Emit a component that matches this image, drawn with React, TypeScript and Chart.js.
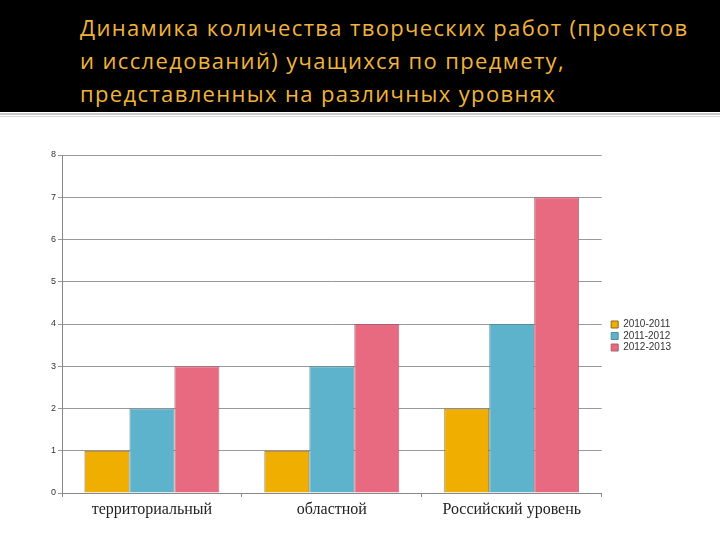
import React, { useEffect, useRef } from "react";
import { Chart, registerables } from "chart.js";

Chart.register(...registerables);

const titleLines = [
  "Динамика количества творческих работ (проектов",
  "и исследований) учащихся по предмету,",
  "представленных на различных уровнях",
];
const categories = ["территориальный", "областной", "Российский уровень"];
const seriesNames = ["2010-2011", "2011-2012", "2012-2013"];
const values2010 = [1, 1, 2];
const values2011 = [2, 3, 4];
const values2012 = [3, 4, 7];
const yTicks = [0, 1, 2, 3, 4, 5, 6, 7, 8];

const fills = ["#F0AE00", "#5DB3CB", "#E86A80"];
const borders = ["#8a6a1a", "#5a8a98", "#a86070"];

const legendShift = {
  id: "legendShift",
  afterLayout(chart: any) {
    const lg = chart.legend;
    if (lg) {
      lg.left += 8;
      lg.right += 8;
    }
  },
};

export default function App() {
  const ref = useRef<HTMLCanvasElement | null>(null);

  useEffect(() => {
    if (!ref.current) return;
    const series = [values2010, values2011, values2012];
    const chart = new Chart(ref.current, {
      type: "bar",
      data: {
        labels: categories,
        datasets: seriesNames.map((name, i) => ({
          label: name,
          data: series[i],
          backgroundColor: fills[i],
          borderColor: borders[i],
          borderWidth: 1,
          categoryPercentage: 0.75,
          barPercentage: 1.0,
        })),
      },
      plugins: [legendShift],
      options: {
        responsive: false,
        animation: false,
        layout: { padding: { top: 35, left: 0, right: 47, bottom: 0 } },
        plugins: {
          tooltip: { enabled: false },
          legend: {
            position: "right",
            fullSize: false,
            title: {
              display: true,
              text: "",
              font: { size: 10, lineHeight: 1.2 },
              padding: { top: 6, bottom: 6 },
            },
            labels: {
              boxWidth: 7,
              boxHeight: 7,
              padding: 1.5,
              color: "#333",
              font: { family: "Liberation Sans, Arial", size: 10 },
            },
          },
        },
        scales: {
          x: {
            grid: {
              drawOnChartArea: false,
              tickLength: 4,
              color: "#888",
            },
            border: { color: "#888" },
            ticks: {
              color: "#222",
              padding: 3,
              font: { family: "Liberation Serif, Times New Roman, serif", size: 16 },
            },
            afterFit: (s: any) => {
              s.height = 47;
            },
          },
          y: {
            min: yTicks[0],
            max: yTicks[yTicks.length - 1],
            ticks: {
              stepSize: 1,
              color: "#333",
              padding: 2,
              font: { family: "Liberation Sans, Arial", size: 9 },
            },
            grid: { color: "#999", tickLength: 4 },
            border: { color: "#888" },
            afterFit: (s: any) => {
              s.width = 62;
            },
          },
        },
      },
    });
    return () => chart.destroy();
  }, []);

  return (
    <div
      style={{
        position: "absolute",
        left: 0,
        top: 0,
        width: 720,
        height: 540,
        background: "#fff",
        overflow: "hidden",
      }}
    >
      <div
        style={{
          position: "absolute",
          left: 0,
          top: 0,
          width: 720,
          height: 112,
          background: "#000",
        }}
      />
      <div
        style={{
          position: "absolute",
          left: 0,
          top: 113,
          width: 720,
          height: 4,
          borderTop: "2px solid #c8c8c8",
          borderBottom: "1px solid #d8d8d8",
          boxSizing: "border-box",
        }}
      />
      <div
        style={{
          position: "absolute",
          left: 80,
          top: 11,
          color: "#F0B43C",
          fontFamily: "'Open Sans', sans-serif",
          fontSize: 22,
          letterSpacing: "1.35px",
          lineHeight: "33px",
          whiteSpace: "nowrap",
        }}
      >
        {titleLines.map((t, i) => (
          <div key={i}>{t}</div>
        ))}
      </div>
      <canvas
        ref={ref}
        width={720}
        height={420}
        style={{ position: "absolute", left: 0, top: 120, display: "block" }}
      />
    </div>
  );
}
